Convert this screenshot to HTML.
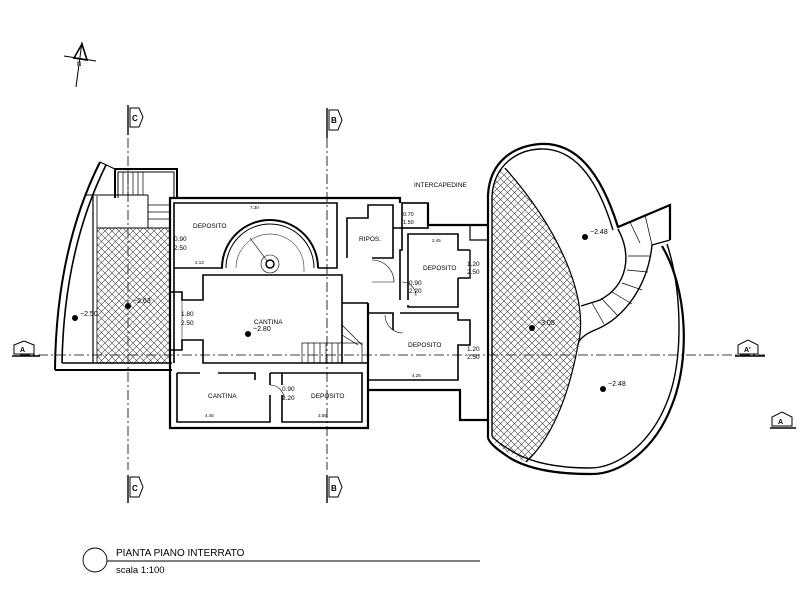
<!DOCTYPE html>
<html><head><meta charset="utf-8"><style>
html,body{margin:0;padding:0;background:#fff;}
svg{display:block;}
text{font-family:"Liberation Sans",sans-serif;fill:#000;}
</style></head><body>
<svg width="800" height="600" viewBox="0 0 800 600" xmlns="http://www.w3.org/2000/svg">
<defs>
<pattern id="h" width="7" height="7" patternUnits="userSpaceOnUse">
<path d="M0,0 L7,7 M7,0 L0,7" stroke="#444" stroke-width="0.6"/>
</pattern>
</defs>
<rect width="800" height="600" fill="#fff"/>

<g stroke="#000" fill="none" stroke-width="1">
<line x1="64" y1="56" x2="96" y2="61"/>
<line x1="82" y1="42" x2="76" y2="87"/>
<path d="M74,58 L82,44 L87,60 Z" stroke-width="1.6"/>
</g>
<text x="77" y="66" font-size="6">N</text>

<g stroke="#000" stroke-width="0.8" stroke-dasharray="10,3,2,3" fill="none">
<line x1="128" y1="138" x2="128" y2="470"/>
<line x1="327" y1="138" x2="327" y2="470"/>
<line x1="20" y1="355" x2="765" y2="355"/>
</g>
<g stroke="#000" stroke-width="1" fill="#fff">
<line x1="128" y1="105" x2="128" y2="135" stroke-width="1.4"/>
<path d="M130,108 L139,108 L143,117 L139,127 L130,127 Z"/>
<line x1="327" y1="108" x2="327" y2="138" stroke-width="1.4"/>
<path d="M329,110 L338,110 L342,120 L338,130 L329,130 Z"/>
<line x1="128" y1="475" x2="128" y2="503" stroke-width="1.4"/>
<path d="M130,477 L139,477 L143,487 L139,497 L130,497 Z"/>
<line x1="327" y1="475" x2="327" y2="503" stroke-width="1.4"/>
<path d="M329,477 L338,477 L342,487 L338,497 L329,497 Z"/>
<line x1="12" y1="356" x2="40" y2="356" stroke-width="1.4"/>
<path d="M14,354 L14,345 L24,341 L34,345 L34,354 Z"/>
<line x1="735" y1="356" x2="765" y2="356" stroke-width="1.4"/>
<path d="M738,354 L738,345 L748,340 L758,345 L758,354 Z"/>
<line x1="770" y1="428" x2="796" y2="428" stroke-width="1.4"/>
<path d="M772,426 L772,417 L782,412 L792,417 L792,426 Z"/>
</g>
<g font-size="8" font-weight="bold">
<text x="132" y="121">C</text><text x="331" y="123">B</text>
<text x="132" y="491">C</text><text x="331" y="491">B</text>
<text x="20" y="352" font-size="7">A</text><text x="744" y="352" font-size="7">A'</text>
<text x="778" y="424" font-size="7">A</text>
</g>

<rect x="97" y="228" width="73" height="135" fill="url(#h)"/>
<path d="M505,168 C560,230 590,300 578,345 C568,400 550,440 526,462 C512,456 500,448 492,440 L492,195 C492,180 498,172 505,168 Z" fill="url(#h)"/>

<g stroke="#000" fill="none">
<path d="M100,162 Q56,250 55,370" stroke-width="2"/>
<path d="M106,165 Q64,250 62,363" stroke-width="1.6"/>
<line x1="100" y1="162" x2="117" y2="170" stroke-width="1"/>
<line x1="55" y1="370" x2="172" y2="370" stroke-width="2"/>
<line x1="62" y1="363" x2="172" y2="363" stroke-width="1.4"/>
<line x1="93" y1="196" x2="93" y2="363" stroke-width="1.2"/>
<line x1="97" y1="196" x2="97" y2="363" stroke-width="0.8"/>
<line x1="85" y1="195" x2="148" y2="195" stroke-width="1"/>
<line x1="97" y1="228" x2="170" y2="228" stroke-width="1"/>
<line x1="148" y1="195" x2="148" y2="228" stroke-width="1"/>
<path d="M115,198 L115,169 L177,169 L177,198" stroke-width="2"/>
<path d="M118,198 L118,172 L174,172 L174,198" stroke-width="1"/>
<g stroke-width="0.7">
<line x1="123" y1="172" x2="123" y2="195"/><line x1="128" y1="172" x2="128" y2="195"/>
<line x1="133" y1="172" x2="133" y2="195"/><line x1="138" y1="172" x2="138" y2="195"/>
<line x1="143" y1="172" x2="143" y2="195"/>
<line x1="148" y1="205" x2="170" y2="205"/><line x1="148" y1="212" x2="170" y2="212"/>
<line x1="148" y1="219" x2="170" y2="219"/>
</g>

<path d="M170,370 L170,198 L400,198 L400,203" stroke-width="2.2"/>
<path d="M428,203 L428,225 L488,225" stroke-width="2.2"/>
<path d="M174,363 L174,203 L337,203 L337,268 L318,268" stroke-width="1.6"/>
<path d="M174,268 L223,268" stroke-width="1.6"/>
<path d="M222,268 A48,48 0 0 1 318,268" stroke-width="2"/>
<path d="M226,268 A44,44 0 0 1 314,268" stroke-width="1"/>
<path d="M236,268 A34,34 0 0 1 304,268 L304,272" stroke-width="0.5"/>
<circle cx="270" cy="264" r="9" stroke-width="0.6"/>
<circle cx="270" cy="264" r="4" stroke-width="1.5"/>
<line x1="250" y1="238" x2="268" y2="262" stroke-width="0.6"/>
<path d="M170,292 L182,292 L182,300 L203,300 L203,275 L342,275 L342,363 L203,363 L203,340 L182,340 L182,350 L170,350" stroke-width="1.6"/>
<line x1="182" y1="300" x2="182" y2="340" stroke-width="0.5"/>
<g stroke-width="0.7">
<rect x="302" y="343" width="60" height="20"/>
<line x1="308" y1="343" x2="308" y2="363"/><line x1="314" y1="343" x2="314" y2="363"/>
<line x1="320" y1="343" x2="320" y2="363"/><line x1="326" y1="343" x2="326" y2="363"/>
<line x1="332" y1="343" x2="332" y2="363"/><line x1="338" y1="343" x2="338" y2="363"/>
<path d="M342,325 L362,345 M342,335 L358,345"/>
</g>
<line x1="342" y1="303" x2="368" y2="303" stroke-width="1.6"/>
<line x1="342" y1="363" x2="368" y2="363" stroke-width="1.6"/>
<path d="M170,370 L170,428 L368,428 L368,303" stroke-width="2.2"/>
<path d="M177,373 L200,373 M218,373 L255,373 L255,380 M270,373 L362,373 L362,422 L282,422 L282,395 M270,395 L270,422 L177,422 L177,373" stroke-width="1.6"/>
<path d="M270,373 L270,385 M282,373 L282,385" stroke-width="1.6"/>
<path d="M270,385 A14,14 0 0 1 284,399" stroke-width="0.6"/>
<path d="M347,258 L347,218 L368,218 L368,205 L393,205 L393,258 L372,258" stroke-width="1.6"/>
<rect x="402" y="203" width="26" height="25" stroke-width="1.6"/>
<path d="M393,228 L402,228 L402,250 L400,250 L400,300" stroke-width="1.6"/>
<path d="M408,300 L408,234 L458,234 L458,250 L470,250 M458,278 L458,307 L408,307 L408,305" stroke-width="1.6"/>
<path d="M458,278 L470,278 L470,250" stroke-width="1.4"/>
<path d="M402,282 A14,14 0 0 1 416,296" stroke-width="0.6"/>
<path d="M372,260 A22,22 0 0 1 394,282 L372,282" stroke-width="0.6"/>
<path d="M368,313 L393,313 L393,330 M400,313 L458,313 L458,320 L470,320 L470,345 L458,345 L458,380 L368,380" stroke-width="1.6"/>
<path d="M385,315 A18,18 0 0 0 403,333" stroke-width="0.6"/>
<path d="M368,390 L460,390 L460,420 L488,420" stroke-width="2.2"/>
<line x1="368" y1="380" x2="368" y2="390" stroke-width="2"/>
<path d="M470,225 L470,240 L488,240" stroke-width="1.2"/>

<path d="M488,438 L488,195 C490,160 515,146 540,144 C575,142 600,170 618,227 L670,205 L670,240" stroke-width="2.2"/>
<path d="M492,436 L492,196 C494,165 517,150 540,149 C572,148 596,174 613,230" stroke-width="1.4"/>
<path d="M662,246 C688,290 690,360 672,405 C655,450 620,475 590,474 C560,474 530,470 510,458 C498,450 490,444 488,438" stroke-width="2.2"/>
<path d="M667,244 C682,290 684,360 667,402 C650,445 617,468 590,468 C562,468 535,464 515,453 C503,446 495,440 492,436" stroke-width="1.4"/>
<path d="M505,168 C560,230 590,300 578,345 C568,400 550,440 526,462" stroke-width="1.2"/>
<path d="M618,229 C632,255 628,285 600,300 L581,306" stroke-width="1.4"/>
<path d="M652,245 L670,240 M652,245 C648,285 625,318 595,330 C585,334 578,340 578,345" stroke-width="1.4"/>
<g stroke-width="0.7">
<line x1="630" y1="222" x2="640" y2="243"/><line x1="645" y1="215" x2="652" y2="245"/>
<line x1="628" y1="256" x2="650" y2="256"/><line x1="627" y1="270" x2="648" y2="272"/>
<line x1="622" y1="283" x2="642" y2="290"/><line x1="612" y1="292" x2="632" y2="304"/>
<line x1="602" y1="299" x2="618" y2="316"/><line x1="592" y1="303" x2="604" y2="324"/>
</g>
</g>

<g fill="#000">
<circle cx="75" cy="318" r="3"/><circle cx="128" cy="306" r="3"/>
<circle cx="248" cy="334" r="3"/><circle cx="585" cy="237" r="3"/>
<circle cx="532" cy="328" r="3"/><circle cx="603" cy="389" r="3"/>
</g>
<g font-size="7">
<text x="80" y="316">−2.50</text><text x="133" y="303">−2.63</text>
<text x="253" y="331">−2.80</text><text x="590" y="234">−2.48</text>
<text x="537" y="325">−3.05</text><text x="608" y="386">−2.48</text>
</g>
<g font-size="6.5">
<text x="193" y="228">DEPOSITO</text>
<text x="254" y="324">CANTINA</text>
<text x="208" y="398">CANTINA</text>
<text x="311" y="398">DEPOSITO</text>
<text x="359" y="241">RIPOS.</text>
<text x="423" y="270">DEPOSITO</text>
<text x="408" y="347">DEPOSITO</text>
<text x="414" y="187">INTERCAPEDINE</text>
</g>
<g font-size="6.5">
<text x="174" y="241">0.90</text><text x="174" y="250">2.50</text>
<text x="181" y="316">1.80</text><text x="181" y="325">2.50</text>
<text x="282" y="391">0.90</text><text x="282" y="400">2.20</text>
<text x="409" y="285">0.90</text><text x="409" y="293">2.20</text>
<text x="467" y="266">1.20</text><text x="467" y="274">2.50</text>
<text x="467" y="351">1.20</text><text x="467" y="359">2.50</text>
<text x="403" y="216" font-size="5.5">0.70</text><text x="403" y="224" font-size="5.5">1.50</text>
</g>
<g font-size="4.5">
<text x="250" y="209">7.30</text><text x="195" y="264">2.13</text>
<text x="432" y="242">2.45</text><text x="205" y="417">4.45</text>
<text x="318" y="417">3.55</text><text x="412" y="377">4.25</text>
</g>

<circle cx="95" cy="560" r="12" fill="none" stroke="#000" stroke-width="0.9"/>
<line x1="107" y1="561" x2="480" y2="561" stroke="#000" stroke-width="0.9"/>
<text x="116" y="556" font-size="10">PIANTA PIANO INTERRATO</text>
<text x="116" y="573" font-size="9.5">scala 1:100</text>
</svg>
</body></html>
